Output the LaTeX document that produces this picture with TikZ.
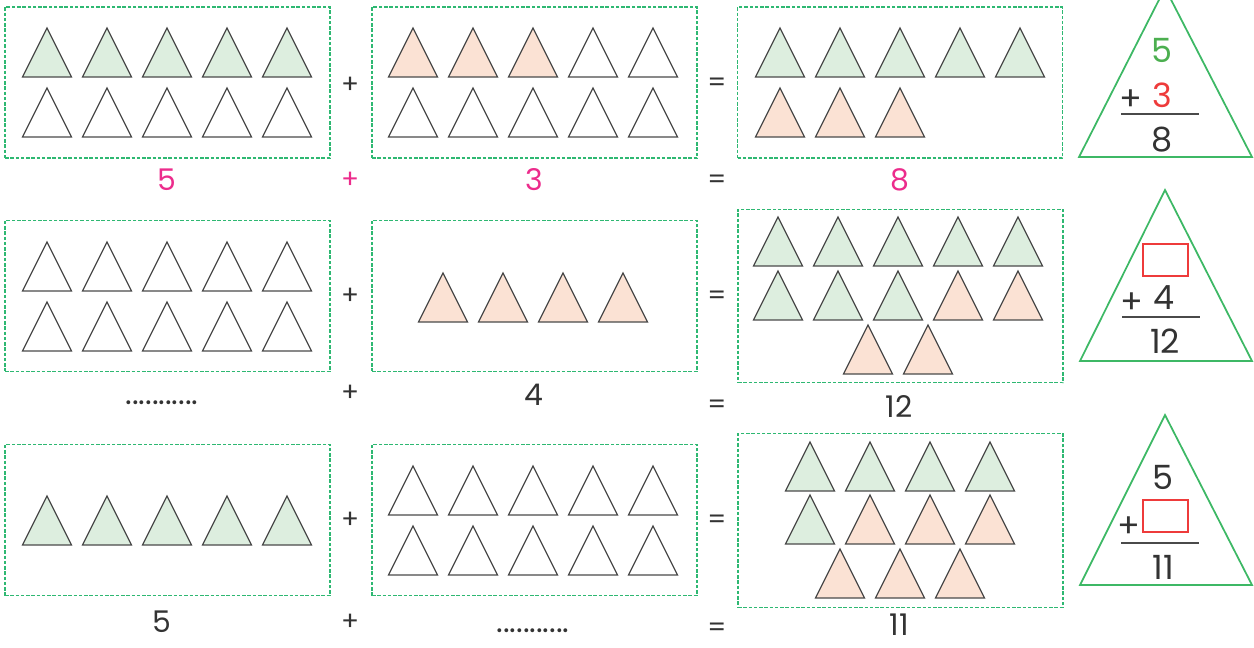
\documentclass[tikz,border=0pt]{standalone}
\usepackage{fontspec}
\setmainfont{Poppins}
\usepackage{tikz}
\usetikzlibrary{positioning}

\definecolor{tgreen}{HTML}{DDEEDF}
\definecolor{torange}{HTML}{FBE2D4}
\definecolor{tline}{HTML}{4A4A4A}
\definecolor{boxgreen}{HTML}{2EB872}
\definecolor{bondgreen}{HTML}{3DB865}
\definecolor{labelpink}{HTML}{EC2C8C}
\definecolor{numgreen}{HTML}{4CAF50}
\definecolor{numred}{HTML}{EE3B3B}
\definecolor{textgray}{HTML}{333333}

\tikzset{
  tribox/.style={draw=boxgreen, dash pattern=on 2pt off 1pt, line width=0.7pt,
    minimum width=6.5cm, minimum height=3.02cm, inner sep=0pt},
  tallbox/.style={tribox, minimum height=3.47cm},
  tri/.style={draw=tline, line width=0.7pt, line join=miter},
  lbl/.style={font=\fontsize{17}{17}\selectfont, text=textgray, inner sep=0pt},
  op/.style={font=\fontsize{15}{15}\selectfont, text=textgray, inner sep=0pt},
  dots/.style={font=\fontsize{18}{18}\selectfont, text=textgray, inner sep=0pt},
  big/.style={font=\fontsize{19}{19}\selectfont, text=textgray, inner sep=0pt},
  bond/.style={draw=bondgreen, line width=1pt, line join=miter},
  blank/.style={draw=numred, line width=0.7pt, minimum width=0.9cm,
    minimum height=0.64cm, inner sep=0pt},
}

% one small triangle: fill, apex x, apex y
\newcommand{\tri}[3]{\filldraw[tri, fill=#1] (#2,#3) -- ++(-24.5,49) -- ++(49,0) -- cycle;}

\begin{document}
\begin{tikzpicture}[x=0.02cm, y=-0.02cm]
  \useasboundingbox (0,0) rectangle (1254,647);

  % row 1
  \node[tribox] (b11) at (167.5,82.5) {};
  \node[tribox] (b12) at (534.5,82.5) {};
  \node[tribox] (b13) at (900,82.5) {};
  \foreach \x in {47,107,167,227,287}{
    \tri{tgreen}{\x}{28}
    \tri{white}{\x}{88}
  }
  \foreach \x in {413,473,533}{\tri{torange}{\x}{28}}
  \foreach \x in {593,653}{\tri{white}{\x}{28}}
  \foreach \x in {413,473,533,593,653}{\tri{white}{\x}{88}}
  \foreach \x in {780,840,900,960,1020}{\tri{tgreen}{\x}{28}}
  \foreach \x in {780,840,900}{\tri{torange}{\x}{88}}
  \node[op] (p1) at (350,85) {+};
  \node[op] (e1) at (717,85) {=};
  \node[lbl, text=labelpink] (n11) at (167,180) {5};
  \node[op, text=labelpink] (q1) at (350,180) {+};
  \node[lbl, text=labelpink] (n12) at (534,180) {3};
  \node[op] (f1) at (717,182) {=};
  \node[lbl, text=labelpink] (n13) at (900,180) {8};

  % row 2
  \node[tribox] (b21) at (167.5,296) {};
  \node[tribox] (b22) at (534.5,296) {};
  \node[tallbox] (b23) at (900.5,296) {};
  \foreach \x in {47,107,167,227,287}{
    \tri{white}{\x}{242}
    \tri{white}{\x}{302}
  }
  \foreach \x in {443,503,563,623}{\tri{torange}{\x}{273}}
  \foreach \x in {778,838,898,958,1018}{\tri{tgreen}{\x}{217}}
  \foreach \x in {778,838,898}{\tri{tgreen}{\x}{271}}
  \foreach \x in {958,1018}{\tri{torange}{\x}{271}}
  \foreach \x in {868,928}{\tri{torange}{\x}{325}}
  \node[op] (p2) at (350,296) {+};
  \node[op] (e2) at (717,298) {=};
  \node[dots] (n21) at (162,403) {...........};
  \node[op] (q2) at (350,393) {+};
  \node[lbl] (n22) at (534,395) {4};
  \node[op] (f2) at (717,407) {=};
  \node[lbl] (n23) at (899,406) {12};

  % row 3
  \node[tribox] (b31) at (167.5,520) {};
  \node[tribox] (b32) at (534.5,520) {};
  \node[tallbox] (b33) at (900.5,520.5) {};
  \foreach \x in {47,107,167,227,287}{\tri{tgreen}{\x}{496}}
  \foreach \x in {413,473,533,593,653}{
    \tri{white}{\x}{466}
    \tri{white}{\x}{526}
  }
  \foreach \x in {810,870,930,990}{\tri{tgreen}{\x}{442}}
  \tri{tgreen}{810}{495}
  \foreach \x in {870,930,990}{\tri{torange}{\x}{495}}
  \foreach \x in {840,900,960}{\tri{torange}{\x}{549}}
  \node[op] (p3) at (350,520) {+};
  \node[op] (e3) at (717,522) {=};
  \node[lbl] (n31) at (162,622) {5};
  \node[op] (q3) at (350,622) {+};
  \node[dots] (n32) at (533,631) {...........};
  \node[op] (f3) at (717,630) {=};
  \node[lbl] (n33) at (899,625) {11};

  % bond triangles
  \coordinate (t1) at (1165,-12);
  \draw[bond] (t1) -- (1252,157) -- (1079,157) -- cycle;
  \node[big, text=numgreen] (s1) at (1162,50) {5};
  \node[big] (a1) at (1131,100) {+};
  \node[big, text=numred] (s2) at (1162,95) {3};
  \coordinate (l1a) at (1121,114);
  \coordinate (l1b) at (1199,114);
  \draw[tline, line width=0.8pt] (l1a) -- (l1b);
  \node[big] (r1) at (1162,140) {8};

  \coordinate (t2) at (1165,190);
  \draw[bond] (t2) -- (1252,361) -- (1080,361) -- cycle;
  \node[blank] (k2) at (1165.5,260) {};
  \node[big] (a2) at (1132,303) {+};
  \node[big] (s3) at (1164,298) {4};
  \coordinate (l2a) at (1122,317);
  \coordinate (l2b) at (1200,317);
  \draw[tline, line width=0.8pt] (l2a) -- (l2b);
  \node[big] (r2) at (1165,341) {12};

  \coordinate (t3) at (1165,415);
  \draw[bond] (t3) -- (1252,585) -- (1080,585) -- cycle;
  \node[big] (s4) at (1163,477) {5};
  \node[big] (a3) at (1129,527) {+};
  \node[blank] (k3) at (1165.5,516) {};
  \coordinate (l3a) at (1121,543);
  \coordinate (l3b) at (1199,543);
  \draw[tline, line width=0.8pt] (l3a) -- (l3b);
  \node[big] (r3) at (1163,567) {11};
\end{tikzpicture}
\end{document}
